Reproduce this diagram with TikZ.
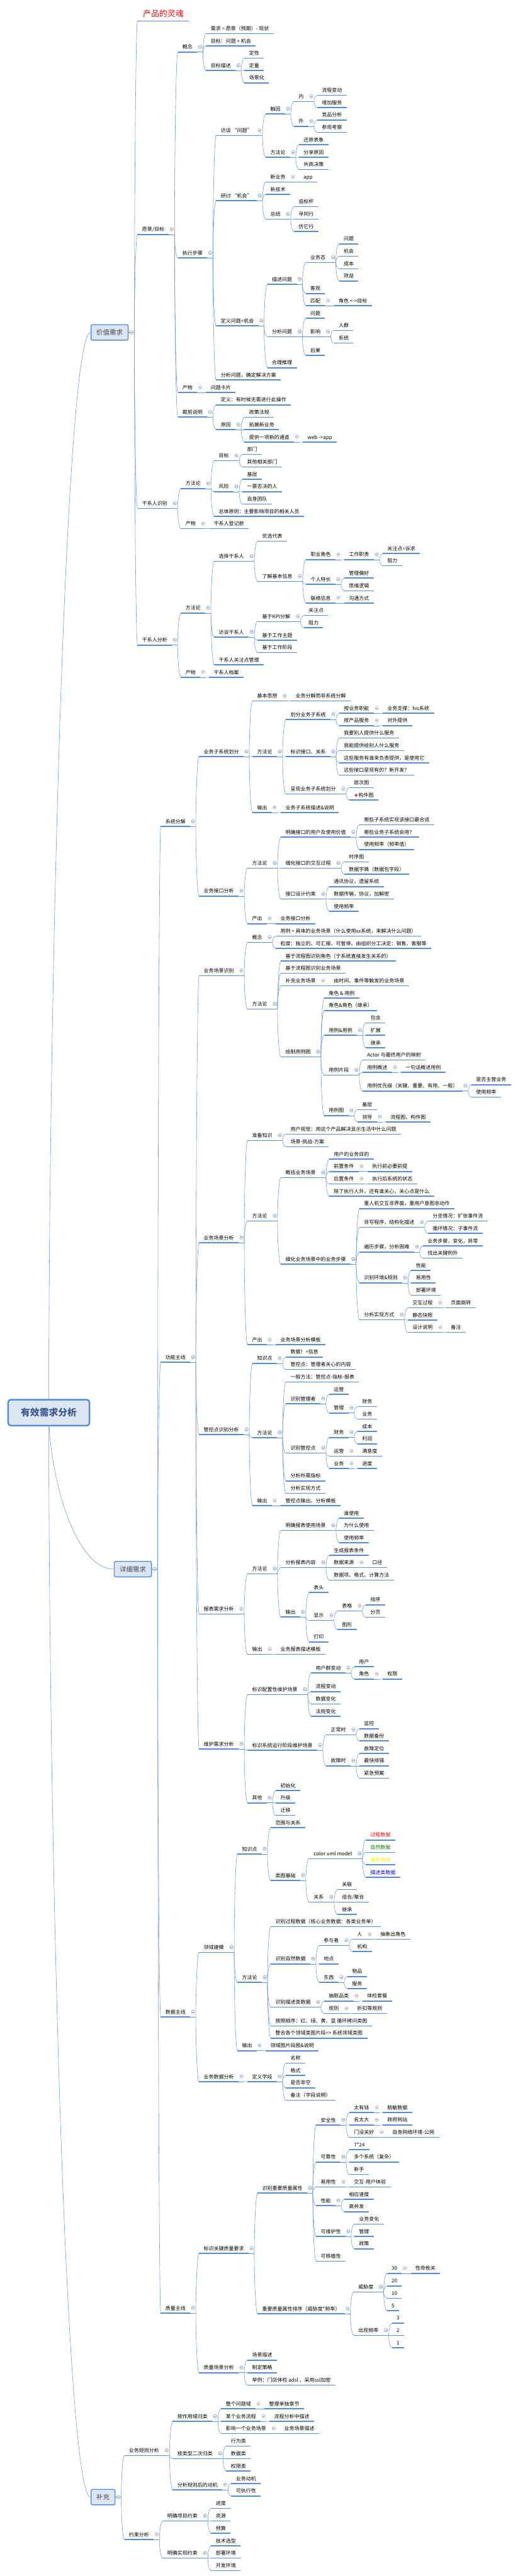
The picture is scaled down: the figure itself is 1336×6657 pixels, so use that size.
\documentclass[tikz,border=0pt]{standalone}
\usepackage{fontspec}
\setmainfont{Noto Sans CJK SC}
\newfontfamily\symf{DejaVu Sans}
\usetikzlibrary{calc,backgrounds}
\definecolor{ul}{RGB}{83,141,213}
\definecolor{ln}{RGB}{98,150,222}
\definecolor{boxfill}{RGB}{220,230,242}
\definecolor{ico}{RGB}{135,160,205}
\definecolor{roottext}{RGB}{60,88,135}
\definecolor{l1text}{RGB}{70,70,70}
\definecolor{dgreen}{RGB}{0,128,0}
\tikzset{
  nd/.style={font=\fontsize{13}{15}\selectfont, inner xsep=12pt, inner ysep=0pt,
    text height=18pt, text depth=8pt, outer sep=0pt, anchor=south west},
  big/.style={font=\fontsize{21}{24}\selectfont, text=red, inner xsep=14pt,
    text height=26pt, text depth=11pt},
  ulin/.style={draw=ul, line width=2.6pt},
  cn/.style={draw=ln, line width=0.9pt},
  icost/.style={draw=ico, line width=0.8pt, fill=white},
  l1box/.style={draw=ul, line width=2.2pt, fill=boxfill, rounded corners=4pt,
    font=\fontsize{17}{20}\selectfont, text=l1text, minimum height=40pt, inner xsep=0pt},
  rootbox/.style={draw=ul, line width=4pt, fill=boxfill, rounded corners=7pt,
    font=\bfseries\fontsize{24}{28}\selectfont, text=roottext,
    minimum width=210pt, minimum height=67pt}
}
\newcommand\rconn[2]{\draw[cn] (#1) .. controls ($(#1)!0.4!(#1|-#2)$) and ($(#2)!0.6!(#1|-#2)$) .. (#2);}
\newcommand\icon[1]{\draw[icost] (#1) circle[radius=4.2pt]; \draw[draw=ico, line width=0.8pt] ([xshift=-2.3pt]#1) -- ([xshift=2.3pt]#1);}
\newcommand\kid[5][]{%
  \path let \p1=(#2-e) in node[nd,#1] (#3) at (\x1+23pt,-#4pt) {#5};
  \draw[ulin] (#3.south west) -- (#3.south east);
  \coordinate (#3-e) at (#3.south east);
  \coordinate (J-#3) at ([xshift=14.5pt]#3.south east);
  \coordinate (I-#3) at ([xshift=7.5pt,yshift=13.5pt]#3.south east);
  \draw[cn] (#2-e) -- (J-#2);
  \rconn{J-#2}{#3.south west}%
  \icon{I-#2}%
}
\begin{document}
\begin{tikzpicture}[x=1pt,y=1pt]
\useasboundingbox (0,0) rectangle (1336,-6657);
% root and level-1 boxes
\node[rootbox] (root) at (126,-3650.5) {有效需求分析};
\node[l1box, minimum width=96pt] (v) at (283,-859) {价值需求};
\node[l1box, minimum width=96pt] (dt) at (343,-4055) {详细需求};
\node[l1box, minimum width=62pt] (sp) at (266,-6453) {补充};
\foreach \b in {v,dt,sp}{
  \coordinate (\b-e) at (\b.east);
  \coordinate (J-\b) at ([xshift=15pt]\b.east);
  \coordinate (I-\b) at ([xshift=7pt]\b.east);
}
\begin{pgfonlayer}{background}
  \fill[white] (0,0) rectangle (1336,-6657);
  \rconn{root.center}{v.west}
  \rconn{root.center}{dt.west}
  \rconn{root.center}{sp.west}
\end{pgfonlayer}

% ===== 价值需求 =====
\kid[big]{v}{t0}{54.2}{产品的灵魂}
\kid{v}{v1}{606}{愿景/目标}
 \kid{v1}{v11}{134.5}{概念}
  \kid{v11}{v111}{86.7}{需求 = 愿景（预期）- 现状}
  \kid{v11}{v112}{118.6}{目标：问题 + 机会}
  \kid{v11}{v113}{182.3}{目标描述}
   \kid{v113}{v1131}{150.1}{定性}
   \kid{v113}{v1132}{182.3}{定量}
   \kid{v113}{v1133}{214.2}{场景化}
 \kid{v1}{v12}{666.5}{执行步骤}
  \kid{v12}{v121}{350.5}{访谈 “问题”}
   \kid{v121}{v1211}{294.5}{触因}
    \kid{v1211}{a1}{262.3}{内}
     \kid{a1}{a11}{246.4}{流程变动}
     \kid{a1}{a12}{278.2}{增加服务}
    \kid{v1211}{a2}{326.4}{外}
     \kid{a2}{a21}{310.1}{竞品分析}
     \kid{a2}{a22}{342.3}{参观考察}
   \kid{v121}{v1212}{406.4}{方法论}
    \kid{v1212}{b1}{374.2}{还原表象}
    \kid{v1212}{b2}{406.4}{分享原因}
    \kid{v1212}{b3}{438.3}{共商决策}
  \kid{v12}{v122}{518.6}{研讨 “机会”}
   \kid{v122}{c1}{470.5}{新业务}
    \kid{c1}{c11}{470.5}{app}
   \kid{v122}{c2}{502.3}{新技术}
   \kid{v122}{c3}{566.3}{总结}
    \kid{c3}{c31}{534.2}{追标杆}
    \kid{c3}{c32}{566.3}{寻同行}
    \kid{c3}{c33}{598.2}{仿它行}
  \kid{v12}{v123}{842}{定义问题+机会}
   \kid{v123}{d1}{734.5}{描述问题}
    \kid{d1}{d11}{678.5}{业务态}
     \kid{d11}{d111}{630.4}{问题}
     \kid{d11}{d112}{662.3}{机会}
     \kid{d11}{d113}{694.5}{成本}
     \kid{d11}{d114}{726.3}{效益}
    \kid{d1}{d12}{758.5}{客观}
    \kid{d1}{d13}{790}{匹配}
     \kid{d13}{d131}{790}{角色 <->目标}
   \kid{v123}{d2}{870}{分析问题}
    \kid{d2}{d21}{822.3}{问题}
    \kid{d2}{d22}{870}{影响}
     \kid{d22}{d221}{854}{人群}
     \kid{d22}{d222}{886.3}{系统}
    \kid{d2}{d23}{918.2}{后果}
   \kid{v123}{d3}{950.4}{合理推理}
  \kid{v12}{v124}{982}{分析问题，确定解决方案}
 \kid{v1}{v13}{1014.5}{产物}
  \kid{v13}{v131}{1014.5}{问题卡片}
 \kid{v1}{v14}{1078}{裁剪说明}
  \kid{v14}{v141}{1046.4}{定义：有时候无需进行此操作}
  \kid{v14}{v142}{1110.5}{原因}
   \kid{v142}{e1}{1078.4}{政策法规}
   \kid{v142}{e2}{1110.5}{拓展新业务}
   \kid{v142}{e3}{1142.6}{提供一项新的通道}
    \kid{e3}{e31}{1142.6}{web ->app}
\kid{v}{v2}{1314}{干系人识别}
 \kid{v2}{v21}{1262.6}{方法论}
  \kid{v21}{f1}{1190.7}{目标}
   \kid{f1}{f11}{1174.4}{部门}
   \kid{f1}{f12}{1206.6}{其他相关部门}
  \kid{v21}{f2}{1270.7}{风险}
   \kid{f2}{f21}{1238.5}{基层}
   \kid{f2}{f22}{1270.7}{一票否决的人}
   \kid{f2}{f23}{1302.6}{自身团队}
  \kid{v21}{f3}{1334.4}{总体原则：主要影响项目的相关人员}
 \kid{v2}{v22}{1366.3}{产物}
  \kid{v22}{v221}{1366.3}{干系人登记册}
\kid{v}{v3}{1667}{干系人分析}
 \kid{v3}{v31}{1584.4}{方法论}
  \kid{v31}{g1}{1450.5}{选择干系人}
   \kid{g1}{g11}{1398.5}{优选代表}
   \kid{g1}{g12}{1502.2}{了解基本信息}
    \kid{g12}{g121}{1446.3}{职业角色}
     \kid{g121}{g1211}{1446.3}{工作职责}
      \kid{g1211}{g12111}{1430.4}{关注点=诉求}
      \kid{g1211}{g12112}{1462.2}{阻力}
    \kid{g12}{g122}{1510}{个人特长}
     \kid{g122}{g1221}{1494}{管理偏好}
     \kid{g122}{g1222}{1526.7}{思维逻辑}
    \kid{g12}{g123}{1558.5}{联络信息}
     \kid{g123}{g1231}{1558.5}{沟通方式}
  \kid{v31}{g2}{1646.3}{访谈干系人}
   \kid{g2}{g21}{1606.3}{基于KPI分解}
    \kid{g21}{g211}{1590.4}{关注点}
    \kid{g21}{g212}{1622.2}{阻力}
   \kid{g2}{g22}{1654.5}{基于工作主题}
   \kid{g2}{g23}{1686.2}{基于工作阶段}
  \kid{v31}{g3}{1718}{干系人关注点管理}
 \kid{v3}{v32}{1750.3}{产物}
  \kid{v32}{v321}{1750.3}{干系人档案}

% ===== 详细需求 =====
\kid{dt}{s}{2135.8}{系统分解}
 \kid{s}{s1}{1955.3}{业务子系统划分}
  \kid{s1}{s11}{1811.2}{基本思想}
   \kid{s11}{s111}{1811.2}{业务分解而非系统分解}
  \kid{s1}{s12}{1955.3}{方法论}
   \kid{s12}{h1}{1859.3}{划分业务子系统}
    \kid{h1}{h11}{1843.4}{按业务职能}
     \kid{h11}{h111}{1843.4}{业务支撑：his系统}
    \kid{h1}{h12}{1875.3}{按产品服务}
     \kid{h12}{h121}{1875.3}{对外提供}
   \kid{s12}{h2}{1955.3}{标识接口、关系}
    \kid{h2}{h21}{1907.5}{我要别人提供什么服务}
    \kid{h2}{h22}{1939.4}{我能提供给别人什么服务}
    \kid{h2}{h23}{1971.6}{这些服务有谁来负责提供，是使用它}
    \kid{h2}{h24}{2003.4}{这些接口是现有的？新开发？}
   \kid{s12}{h3}{2051.6}{呈现业务子系统划分}
    \kid{h3}{h31}{2035.6}{层次图}
    \kid{h3}{h32}{2067.5}{{\symf\textcolor{red}{★}}构件图}
  \kid{s1}{s13}{2099.7}{输出}
   \kid{s13}{s131}{2099.7}{业务子系统描述\&说明}
 \kid{s}{s2}{2315.6}{业务接口分析}
  \kid{s2}{s21}{2243.7}{方法论}
   \kid{s21}{i1}{2163.4}{明确接口的用户及使用价值}
    \kid{i1}{i11}{2131.6}{哪些子系统实现该接口最合适}
    \kid{i1}{i12}{2163.4}{哪些业务子系统会用？}
    \kid{i1}{i13}{2195.3}{使用频率（频率值）}
   \kid{s21}{i2}{2243.7}{细化接口的交互过程}
    \kid{i2}{i21}{2227.2}{时序图}
    \kid{i2}{i22}{2259}{数据字典（数据包字段）}
   \kid{s21}{i3}{2323.4}{接口设计约束}
    \kid{i3}{i31}{2291.2}{通讯协议，遗留系统}
    \kid{i3}{i32}{2323.4}{数据传输，协议，加解密}
    \kid{i3}{i33}{2355.2}{使用频率}
  \kid{s2}{s22}{2387}{产出}
   \kid{s22}{s221}{2387}{业务接口分析}
\kid{dt}{fm}{3520.5}{功能主线}
 \kid{fm}{p1}{2521.6}{业务场景识别}
  \kid{p1}{p11}{2435.2}{概念}
   \kid{p11}{p111}{2419.3}{用例 = 具体的业务场景（什么使用xx系统，来解决什么问题）}
   \kid{p11}{p112}{2451.2}{粒度：独立的、可汇报、可暂停。由组织分工决定：销售、客服等}
  \kid{p1}{p12}{2607.6}{方法论}
   \kid{p12}{q1}{2483.4}{基于流程图识别角色（于系统直接发生关系的）}
   \kid{p12}{q2}{2515.2}{基于流程图识别业务场景}
   \kid{p12}{q3}{2547.5}{补充业务场景}
    \kid{q3}{q31}{2547.5}{由时间、事件等触发的业务场景}
   \kid{p12}{q4}{2731.2}{绘制用例图}
    \kid{q4}{q41}{2579.3}{角色 \& 用例}
    \kid{q4}{q42}{2611.5}{角色\&角色（继承）}
    \kid{q4}{q43}{2675.6}{用例\&用例}
     \kid{q43}{q431}{2643.4}{包含}
     \kid{q43}{q432}{2675.6}{扩展}
     \kid{q43}{q433}{2707.5}{继承}
    \kid{q4}{q44}{2778.5}{用例片段}
     \kid{q44}{q441}{2739.3}{Actor 与最终用户的映射}
     \kid{q44}{q442}{2771.2}{用例概述}
      \kid{q442}{q4421}{2771.2}{一句话概述用例}
     \kid{q44}{q443}{2819.3}{用例优先级（关键、重要、有用、一般）}
      \kid{q443}{q4431}{2803.3}{是否主营业务}
      \kid{q443}{q4432}{2835.2}{使用频率}
    \kid{q4}{q45}{2883}{用例图}
     \kid{q45}{q451}{2867.7}{基层}
     \kid{q45}{q452}{2899.3}{领导}
      \kid{q452}{q4521}{2899.3}{流程图、构件图}
 \kid{fm}{p2}{3211.5}{业务场景分析}
  \kid{p2}{p21}{2947.4}{准备知识}
   \kid{p21}{p211}{2931.1}{用户视觉：用这个产品解决显示生活中什么问题}
   \kid{p21}{p212}{2963.3}{场景-挑战-方案}
  \kid{p2}{p22}{3155.5}{方法论}
   \kid{p22}{r1}{3043.3}{概括业务场景}
    \kid{r1}{r11}{2995.2}{用户的业务目的}
    \kid{r1}{r12}{3027.4}{前置条件}
     \kid{r12}{r121}{3027.4}{执行前必要前提}
    \kid{r1}{r13}{3059.3}{后置条件}
     \kid{r13}{r131}{3059.3}{执行后系统的状态}
    \kid{r1}{r14}{3091.1}{除了执行人外，还有谁关心，关心点是什么}
   \kid{p22}{r2}{3267}{细化业务场景中的业务步骤}
    \kid{r2}{r21}{3123.3}{重人机交互非界面，重用户意图非动作}
    \kid{r2}{r22}{3171.5}{非写程序，结构化描述}
     \kid{r22}{r221}{3155.5}{分支情况：扩张事件流}
     \kid{r22}{r222}{3187.4}{循环情况：子事件流}
    \kid{r2}{r23}{3235.6}{遍历步骤，分析困难}
     \kid{r23}{r231}{3219.6}{业务步骤，变化，异常}
     \kid{r23}{r232}{3251.5}{找出关键例外}
    \kid{r2}{r24}{3315.2}{识别环境\&规则}
     \kid{r24}{r241}{3283.3}{性能}
     \kid{r24}{r242}{3315.2}{易用性}
     \kid{r24}{r243}{3347}{部署环境}
    \kid{r2}{r25}{3410.7}{分析实现方式}
     \kid{r25}{r251}{3379.6}{交互过程}
      \kid{r251}{r2511}{3379.6}{页面跳转}
     \kid{r25}{r252}{3411.4}{静态快照}
     \kid{r25}{r253}{3443.3}{设计说明}
      \kid{r253}{r2531}{3443.3}{备注}
  \kid{p2}{p23}{3475.1}{产出}
   \kid{p23}{p231}{3475.1}{业务场景分析模板}
 \kid{fm}{p3}{3707.4}{管控点识别分析}
  \kid{p3}{p31}{3523.3}{知识点}
   \kid{p31}{p311}{3507}{数据！=信息}
   \kid{p31}{p312}{3539.2}{管控点：管理者关心的内容}
  \kid{p3}{p32}{3715.2}{方法论}
   \kid{p32}{u1}{3571.4}{一般方法：管控点-指标-报表}
   \kid{p32}{u2}{3627.4}{识别管理者}
    \kid{u2}{u21}{3603}{运营}
    \kid{u2}{u22}{3651.4}{管理}
     \kid{u22}{u221}{3635.1}{财务}
     \kid{u22}{u222}{3667.4}{业务}
   \kid{p32}{u3}{3754.8}{识别管控点}
    \kid{u3}{u31}{3714.8}{财务}
     \kid{u31}{u311}{3698.9}{成本}
     \kid{u31}{u312}{3731.1}{利润}
    \kid{u3}{u32}{3763}{运营}
     \kid{u32}{u321}{3763}{满意度}
    \kid{u3}{u33}{3795.2}{业务}
     \kid{u33}{u331}{3795.2}{进度}
   \kid{p32}{u4}{3827}{分析所需指标}
   \kid{p32}{u5}{3859.2}{分析实现方式}
  \kid{p3}{p33}{3891}{输出}
   \kid{p33}{p331}{3891}{管控点输出、分析模板}
 \kid{fm}{p4}{4171}{报表需求分析}
  \kid{p4}{p41}{4067.3}{方法论}
   \kid{p41}{w1}{3955}{明确报表使用场景}
    \kid{w1}{w11}{3923.2}{谁使用}
    \kid{w1}{w12}{3955}{为什么使用}
    \kid{w1}{w13}{3987}{使用频率}
   \kid{p41}{w2}{4051}{分析报表内容}
    \kid{w2}{w21}{4019.2}{生成报表条件}
    \kid{w2}{w22}{4051}{数据来源}
     \kid{w22}{w221}{4051}{口径}
    \kid{w2}{w23}{4083.2}{数据项、格式、计算方法}
   \kid{p41}{w3}{4178.8}{输出}
    \kid{w3}{w31}{4115}{表头}
    \kid{w3}{w32}{4187.3}{显示}
     \kid{w32}{w321}{4163.2}{表格}
      \kid{w321}{w3211}{4147.3}{排序}
      \kid{w321}{w3212}{4179.2}{分页}
     \kid{w32}{w322}{4211.4}{图形}
    \kid{w3}{w33}{4243.2}{打印}
  \kid{p4}{p42}{4275.1}{输出}
   \kid{p42}{p421}{4275.1}{业务报表描述模板}
 \kid{fm}{p5}{4519.7}{维护需求分析}
  \kid{p5}{p51}{4379.2}{标识配置性维护场景}
   \kid{p51}{x1}{4323.3}{用户群变动}
    \kid{x1}{x11}{4307.3}{用户}
    \kid{x1}{x12}{4339.2}{角色}
     \kid{x12}{x121}{4339.2}{权限}
   \kid{p51}{x2}{4371.4}{流程变动}
   \kid{p51}{x3}{4403.3}{数据变化}
   \kid{p51}{x4}{4435.5}{法规变化}
  \kid{p5}{p52}{4523.2}{标识系统运行阶段维护场景}
   \kid{p52}{y1}{4483.2}{正常时}
    \kid{y1}{y11}{4467.3}{监控}
    \kid{y1}{y12}{4499.1}{数据备份}
   \kid{p52}{y2}{4563.5}{故障时}
    \kid{y2}{y21}{4531.3}{故障定位}
    \kid{y2}{y22}{4563.5}{最快排错}
    \kid{y2}{y23}{4595.4}{紧急预案}
  \kid{p5}{p53}{4659.1}{其他}
   \kid{p53}{p531}{4627.3}{初始化}
   \kid{p53}{p532}{4659.1}{升级}
   \kid{p53}{p533}{4691.3}{迁移}
\kid{dt}{dm}{5212.4}{数据主线}
 \kid{dm}{k1}{5045.3}{领域建模}
  \kid{k1}{k11}{4791.2}{知识点}
   \kid{k11}{k111}{4723.2}{范围与关系}
   \kid{k11}{k112}{4859.5}{类图基础}
    \kid{k112}{k1121}{4803.2}{color uml model}
     \kid[text=red]{k1121}{m1}{4755}{过程数据}
     \kid[text=dgreen]{k1121}{m2}{4787}{自然数据}
     \kid[text=yellow]{k1121}{m3}{4819.1}{角色数据}
     \kid[text=blue]{k1121}{m4}{4851.3}{描述类数据}
    \kid{k112}{k1122}{4915.4}{关系}
     \kid{k1122}{n1}{4883.2}{关联}
     \kid{k1122}{n2}{4915.4}{组合/聚合}
     \kid{k1122}{n3}{4947.3}{继承}
  \kid{k1}{k12}{5123.1}{方法论}
   \kid{k12}{o1}{4979.1}{识别过程数据（核心业务数据：各类业务单）}
   \kid{k12}{o2}{5075.4}{识别自然数据}
    \kid{o2}{o21}{5027.6}{参与者}
     \kid{o21}{o211}{5011.3}{人}
      \kid{o211}{o2111}{5011.3}{抽象出角色}
     \kid{o21}{o212}{5043.5}{机构}
    \kid{o2}{o22}{5075.4}{地点}
    \kid{o2}{o23}{5123.1}{东西}
     \kid{o23}{o231}{5107.6}{物品}
     \kid{o23}{o232}{5139.4}{服务}
   \kid{k12}{o3}{5187.2}{识别描述类数据}
    \kid{o3}{o31}{5171.3}{抽取品类}
     \kid{o31}{o311}{5171.3}{体检套餐}
    \kid{o3}{o32}{5203.2}{规则}
     \kid{o32}{o321}{5203.2}{折扣等规则}
   \kid{k12}{o4}{5235.4}{按照顺序：红、绿、黄、蓝 循环拷问类图}
   \kid{k12}{o5}{5267.2}{整合各个领域类图片段=> 系统领域类图}
  \kid{k1}{k13}{5299.4}{输出}
   \kid{k13}{k131}{5299.4}{领域图片段图\&说明}
 \kid{dm}{k2}{5379.4}{业务数据分析}
  \kid{k2}{k21}{5379.4}{定义字段}
   \kid{k21}{k211}{5331.3}{名称}
   \kid{k21}{k212}{5363.2}{格式}
   \kid{k21}{k213}{5395.4}{是否非空}
   \kid{k21}{k214}{5427.6}{备注（字段说明）}
\kid{dt}{qm}{5977.6}{质量主线}
 \kid{qm}{z1}{5823.3}{标识关键质量要求}
  \kid{z1}{z11}{5667.5}{识别重要质量属性}
   \kid{z11}{za}{5491.7}{安全性}
    \kid{za}{za1}{5459.4}{太有钱}
     \kid{za1}{za11}{5459.4}{脱敏数据}
    \kid{za}{za2}{5491.3}{名太大}
     \kid{za2}{za21}{5491.3}{政府网站}
    \kid{za}{za3}{5523.5}{门没关好}
     \kid{za3}{za31}{5523.5}{自身网络环境-公网}
   \kid{z11}{zb}{5587.2}{可靠性}
    \kid{zb}{zb1}{5555.3}{7*24}
    \kid{zb}{zb2}{5587.2}{多个系统（复杂）}
    \kid{zb}{zb3}{5619.4}{新手}
   \kid{z11}{zc}{5651.6}{易用性}
    \kid{zc}{zc1}{5651.6}{交互-用户体验}
   \kid{z11}{zd}{5699.7}{性能}
    \kid{zd}{zd1}{5683.5}{相应速度}
    \kid{zd}{zd2}{5715.7}{高并发}
   \kid{z11}{ze}{5779.4}{可维护性}
    \kid{ze}{ze1}{5747.5}{业务变化}
    \kid{ze}{ze2}{5779.4}{管理}
    \kid{ze}{ze3}{5811.6}{政策}
   \kid{z11}{zf}{5843.5}{可移植性}
  \kid{z1}{z12}{5979.4}{重要质量属性排序（威胁度*频率）}
   \kid{z12}{zg}{5923.1}{威胁度}
    \kid{zg}{zg1}{5875}{30}
     \kid{zg1}{zg11}{5875}{性命攸关}
    \kid{zg}{zg2}{5907.2}{20}
    \kid{zg}{zg3}{5939.1}{10}
    \kid{zg}{zg4}{5971.3}{5}
   \kid{z12}{zh}{6035}{出现频率}
    \kid{zh}{zh1}{6003.1}{3}
    \kid{zh}{zh2}{6035}{2}
    \kid{zh}{zh3}{6067.2}{1}
 \kid{qm}{z2}{6131.6}{质量场景分析}
  \kid{z2}{z21}{6099.1}{场景描述}
  \kid{z2}{z22}{6131.6}{制定策略}
  \kid{z2}{z23}{6163.4}{举例：门店体检 adsl ，采用ssl加密}

% ===== 补充 =====
\kid{sp}{bz1}{6345.7}{业务规则分析}
 \kid{bz1}{bz11}{6257.2}{按作用域归类}
  \kid{bz11}{bz111}{6225}{整个问题域}
   \kid{bz111}{bz1111}{6225}{整理单独章节}
  \kid{bz11}{bz112}{6257.2}{某个业务流程}
   \kid{bz112}{bz1121}{6257.2}{流程分析中描述}
  \kid{bz11}{bz113}{6289}{影响一个业务场景}
   \kid{bz113}{bz1131}{6289}{业务场景描述}
 \kid{bz1}{bz12}{6353.5}{按类型二次归类}
  \kid{bz12}{bz121}{6321.3}{行为类}
  \kid{bz12}{bz122}{6353.5}{数据类}
  \kid{bz12}{bz123}{6385.4}{权限类}
 \kid{bz1}{bz13}{6434.2}{分析规则后的动机}
  \kid{bz13}{bz131}{6418}{业务动机}
  \kid{bz13}{bz132}{6450.2}{可执行性}
\kid{sp}{bz2}{6562.7}{约束分析}
 \kid{bz2}{bz21}{6514.6}{明确项目约束}
  \kid{bz21}{bz211}{6482.4}{进度}
  \kid{bz21}{bz212}{6514.6}{资源}
  \kid{bz21}{bz213}{6546.4}{预算}
 \kid{bz2}{bz22}{6610.9}{明确实现约束}
  \kid{bz22}{bz221}{6579}{技术选型}
  \kid{bz22}{bz222}{6610.9}{部署环境}
  \kid{bz22}{bz223}{6643.1}{开发环境}
\end{tikzpicture}
\end{document}
